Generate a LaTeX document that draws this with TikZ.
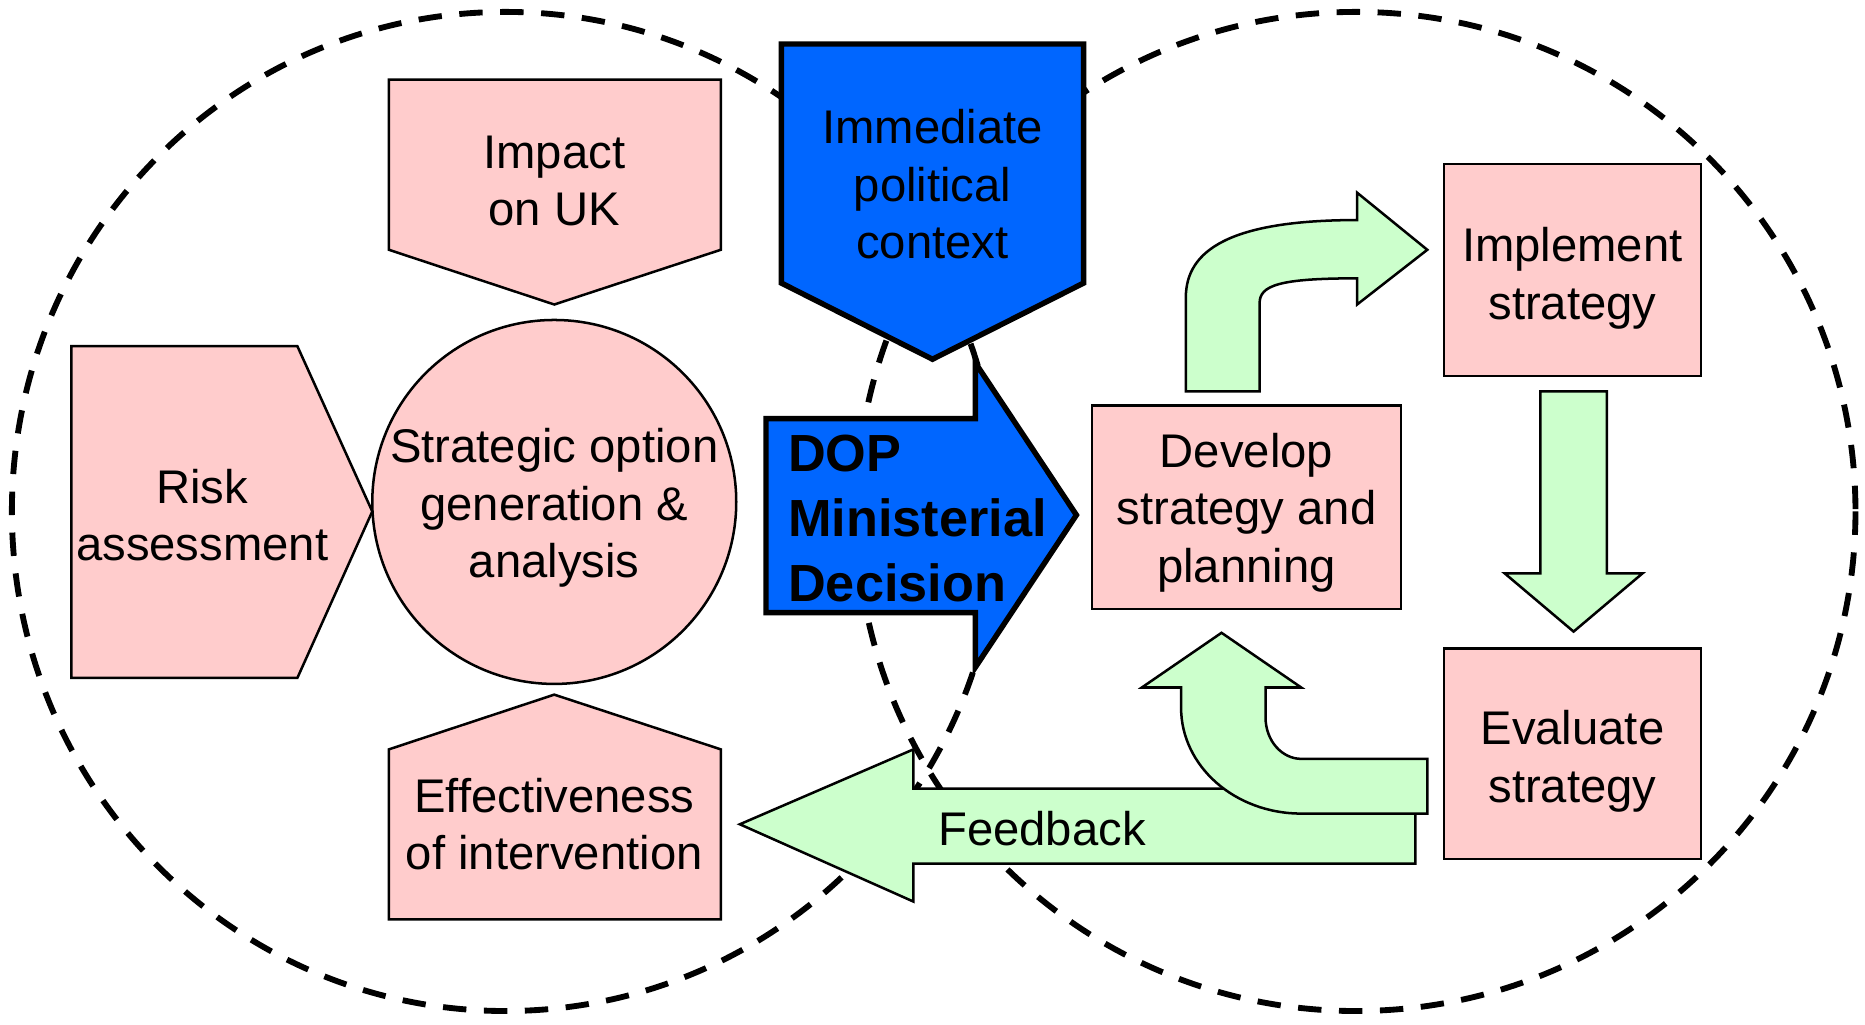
\documentclass[tikz,border=0pt]{standalone}
\usepackage{fontspec}
\setmainfont{Liberation Sans}
\definecolor{pinkfill}{HTML}{FFCCCC}
\definecolor{greenfill}{HTML}{CCFFCC}
\definecolor{bluefill}{HTML}{0066FF}
\begin{document}
\begin{tikzpicture}[x=0.1mm,y=-0.1mm,
  pinkshape/.style={fill=pinkfill, draw=black, line width=0.6pt, line join=miter},
  greenarrow/.style={fill=greenfill, draw=black, line width=0.6pt, line join=miter},
  blueshape/.style={fill=bluefill, draw=black, line width=1.3pt, line join=miter},
  txt/.style={align=center, font=\fontsize{11.3}{13.7}\selectfont, inner sep=0pt},
  boldtxt/.style={align=left, font=\fontsize{12.5}{15.6}\selectfont\bfseries, inner sep=0pt},
  zone/.style={draw=black, line width=1.4pt, dash pattern=on 5.6pt off 4.2pt}
]
\useasboundingbox (0,0) rectangle (1568,861);

% two overlapping dashed zones
\draw[zone] (425,430) ellipse [x radius=415, y radius=420];
\draw[zone] (1140,430) ellipse [x radius=420, y radius=420];

% left zone: analysis shapes
\draw[pinkshape] (327,67) -- (606,67) -- (606,210) -- (466,256) -- (327,210) -- cycle;
\draw[pinkshape] (60,291) -- (250,291) -- (313,430) -- (250,570) -- (60,570) -- cycle;
\draw[pinkshape] (466,584) -- (606,630) -- (606,773) -- (327,773) -- (327,630) -- cycle;
\draw[pinkshape] (466,422) circle [radius=153];

\node[txt] (impact) at (466,152) {Impact\\on UK};
\node[txt] (risk) at (170,433) {Risk\\assessment};
\node[txt] (options) at (466,427) {Strategic option\\generation \&\\analysis};
\node[txt] (effect) at (466,693) {Effectiveness\\of intervention};

% political context and decision
\draw[blueshape] (657,37) -- (911,37) -- (911,238) -- (784,302) -- (657,238) -- cycle;
\node[txt] (context) at (784,155) {Immediate\\political\\context};
\draw[blueshape] (644,352) -- (820,352) -- (820,305) -- (905,433) -- (820,561) -- (820,515) -- (644,515) -- cycle;
\node[boldtxt, anchor=west] (dop) at (662,436) {DOP\\Ministerial\\Decision};

% feedback arrow
\draw[greenarrow] (1190,663) -- (768,663) -- (768,630) -- (622,693) -- (768,758) -- (768,726) -- (1190,726) -- cycle;
\node[txt] (feedback) at (876,697) {Feedback};

% right zone: strategy cycle
\draw[pinkshape] (918,341) rectangle (1178,512);
\draw[pinkshape] (1214,138) rectangle (1430,316);
\draw[pinkshape] (1214,545) rectangle (1430,722);
\node[txt] (develop) at (1048,431) {Develop\\strategy and\\planning};
\node[txt] (implement) at (1322,234) {Implement\\strategy};
\node[txt] (evaluate) at (1322,640) {Evaluate\\strategy};

% develop -> implement
\draw[greenarrow] (997,329) -- (997,250) .. controls (997,210) and (1035,185) .. (1141,185)
  -- (1141,162) -- (1200,210) -- (1141,256) -- (1141,234)
  .. controls (1075,234) and (1059,240) .. (1059,255) -- (1059,329) -- cycle;
% implement -> evaluate
\draw[greenarrow] (1295,329) -- (1351,329) -- (1351,482) -- (1381,482) -- (1323,531) -- (1265,482) -- (1295,482) -- cycle;
% evaluate -> develop
\draw[greenarrow] (1200,638) -- (1094,638) .. controls (1078,638) and (1064,623) .. (1064,603)
  -- (1064,578) -- (1094,578) -- (1027,532) -- (960,578) -- (993,578) -- (993,595)
  .. controls (993,644) and (1038,684) .. (1094,684) -- (1200,684) -- cycle;
\end{tikzpicture}
\end{document}
